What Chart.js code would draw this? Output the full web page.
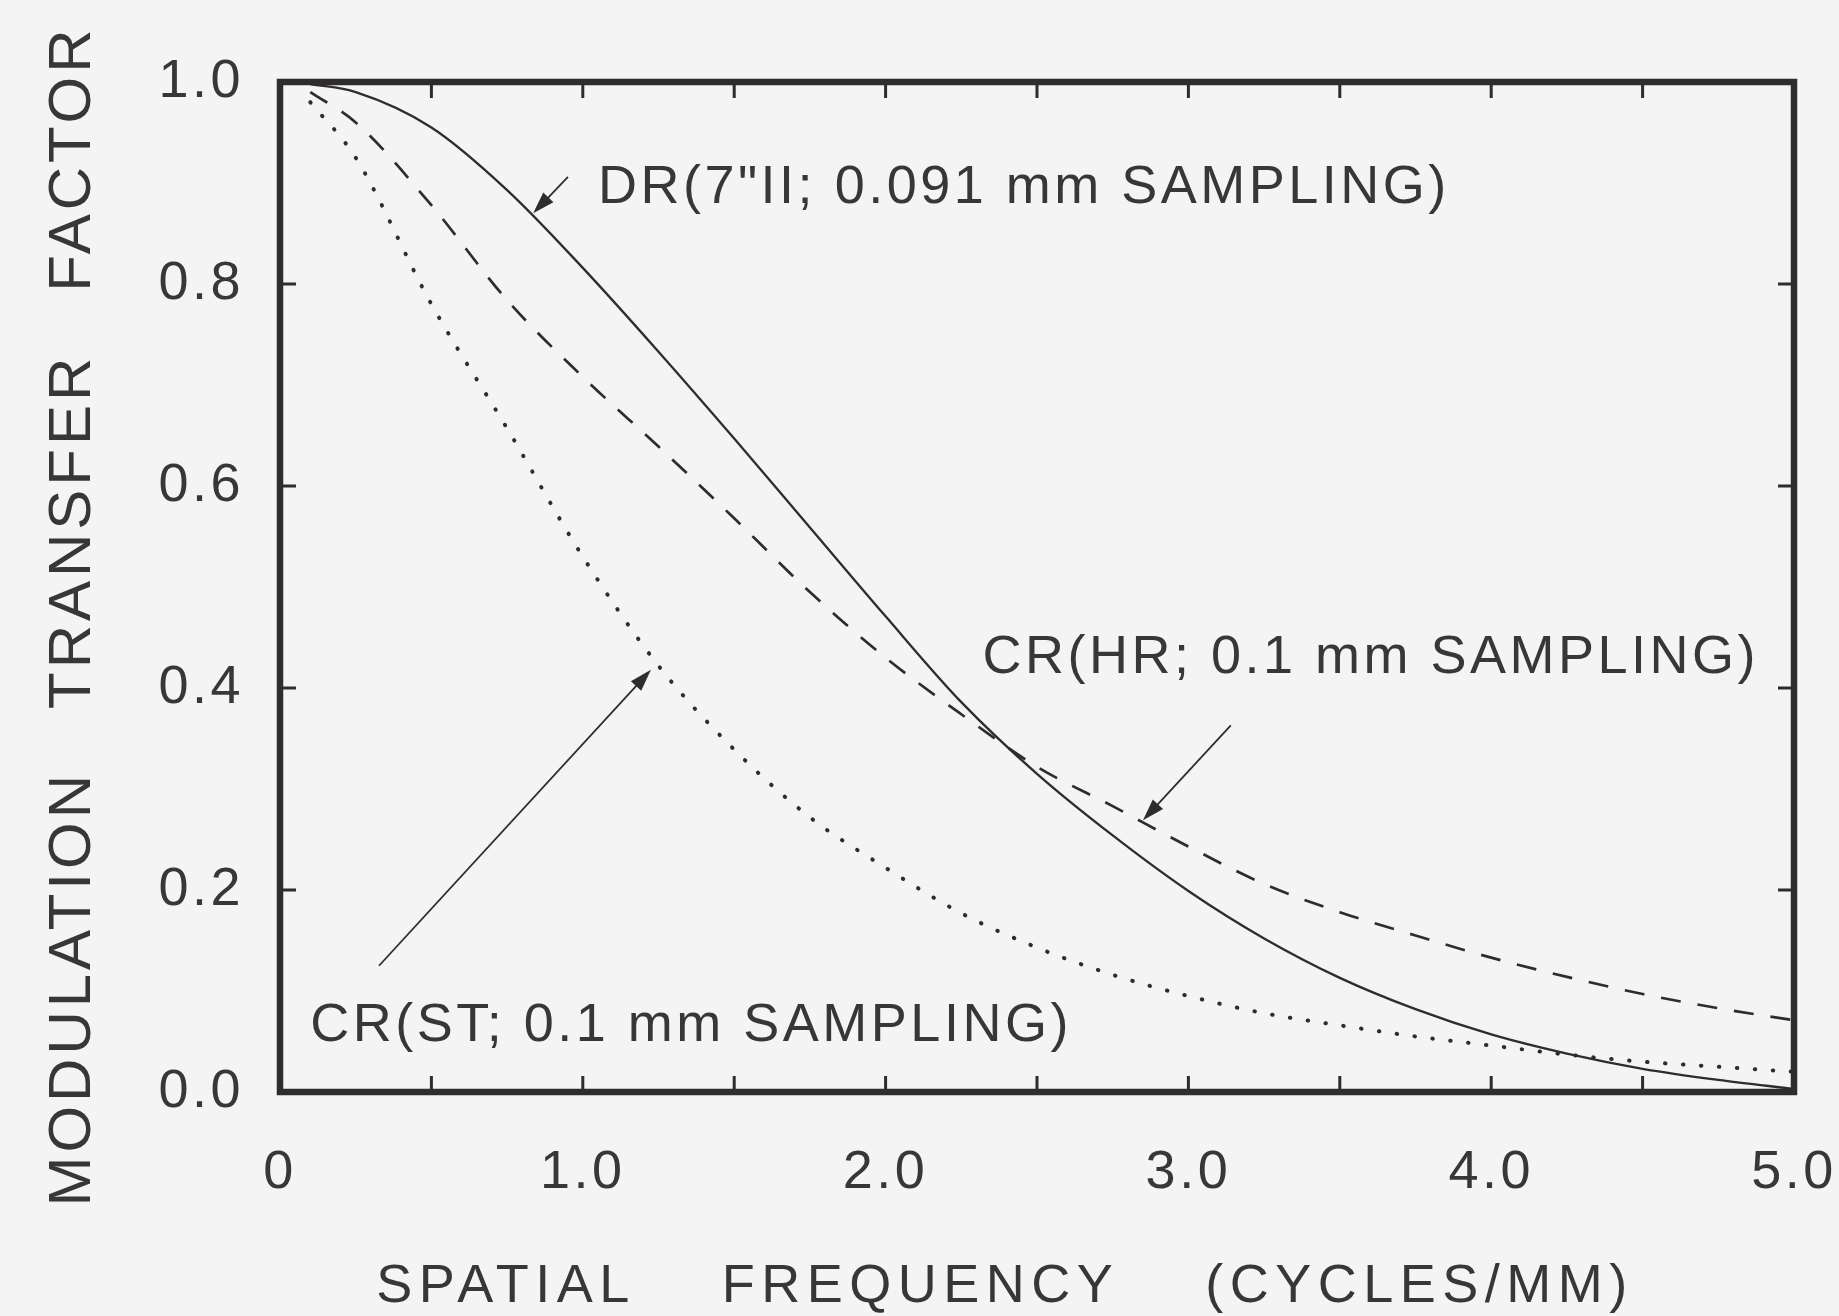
<!DOCTYPE html>
<html>
<head>
<meta charset="utf-8">
<script src="https://cdn.jsdelivr.net/npm/chart.js@4.4.1/dist/chart.umd.min.js"></script>
<style>
  html, body { margin: 0; padding: 0; background: #f4f4f4; }
  canvas { display: block; }
</style>
</head>
<body>
<canvas id="mtf" width="1839" height="1316"></canvas>
<script>
// spatial frequency (cycles/mm) sampled along the curves
const freq = [0.1, 0.25, 0.5, 0.75, 1.0, 1.25, 1.5, 1.75, 2.0, 2.25, 2.5,
              2.75, 3.0, 3.25, 3.5, 3.75, 4.0, 4.25, 4.5, 4.75, 5.0];

// DR (7"II; 0.091 mm sampling) - solid
const drValues = [0.998, 0.99, 0.955, 0.893, 0.816, 0.733, 0.647, 0.559, 0.471, 0.386, 0.315,
                  0.254, 0.199, 0.152, 0.113, 0.082, 0.057, 0.038, 0.023, 0.012, 0.003];

// CR (HR; 0.1 mm sampling) - dashed
const crHrValues = [0.99, 0.96, 0.878, 0.784, 0.708, 0.639, 0.568, 0.495, 0.43, 0.374, 0.322,
                    0.283, 0.243, 0.206, 0.178, 0.155, 0.133, 0.114, 0.097, 0.083, 0.071];

// CR (ST; 0.1 mm sampling) - dotted
const crStValues = [0.98, 0.925, 0.78, 0.657, 0.53, 0.422, 0.339, 0.272, 0.222, 0.177, 0.143,
                    0.116, 0.095, 0.078, 0.066, 0.055, 0.046, 0.037, 0.03, 0.025, 0.02];

const xTickLabels = ['0', '1.0', '2.0', '3.0', '4.0', '5.0'];
const yTickLabels = ['0.0', '0.2', '0.4', '0.6', '0.8', '1.0'];

const xTitle = 'SPATIAL    FREQUENCY    (CYCLES/MM)';
const yTitle = 'MODULATION   TRANSFER   FACTOR';

// labels with their arrows, in data units
const notes = [
    { text: 'DR(7"II; 0.091 mm SAMPLING)', at: [1.05, 0.895], from: [0.951, 0.906], to: [0.836, 0.870] },
    { text: 'CR(HR; 0.1 mm SAMPLING)', at: [2.32, 0.43], from: [3.14, 0.363], to: [2.85, 0.269] },
    { text: 'CR(ST; 0.1 mm SAMPLING)', at: [0.10, 0.065], from: [0.327, 0.125], to: [1.225, 0.418] }
];

const ink = '#2f2c2c';
const textInk = '#383636';
const paper = '#f4f4f4';
const family = '"Liberation Sans", Arial, Helvetica, sans-serif';
const spacing = '3.5px';

function toPoints(values) {
    return freq.map((f, i) => ({ x: f, y: values[i] }));
}

function arrow(ctx, x0, y0, x1, y1) {
    const ang = Math.atan2(y1 - y0, x1 - x0);
    const len = 22, half = 7;
    ctx.beginPath();
    ctx.moveTo(x0, y0);
    ctx.lineTo(x1 - Math.cos(ang) * len * 0.6, y1 - Math.sin(ang) * len * 0.6);
    ctx.stroke();
    ctx.beginPath();
    ctx.moveTo(x1, y1);
    ctx.lineTo(x1 - Math.cos(ang) * len - Math.sin(ang) * half, y1 - Math.sin(ang) * len + Math.cos(ang) * half);
    ctx.lineTo(x1 - Math.cos(ang) * len + Math.sin(ang) * half, y1 - Math.sin(ang) * len - Math.cos(ang) * half);
    ctx.closePath();
    ctx.fill();
}

const decor = {
    id: 'decor',
    beforeUpdate(chart) {
        chart.ctx.letterSpacing = spacing;
    },
    beforeDraw(chart) {
        const ctx = chart.ctx;
        ctx.save();
        ctx.fillStyle = paper;
        ctx.fillRect(0, 0, chart.width, chart.height);
        ctx.restore();
        ctx.letterSpacing = spacing;
    },
    afterDraw(chart) {
        const ctx = chart.ctx;
        const { left, right, top, bottom } = chart.chartArea;
        const xs = chart.scales.x, ys = chart.scales.y;
        ctx.save();

        // inward ticks
        ctx.strokeStyle = ink;
        ctx.lineWidth = 3;
        ctx.beginPath();
        xs.ticks.forEach(t => {
            if (t.value <= 0 || t.value >= 5) return;
            const px = xs.getPixelForValue(t.value);
            ctx.moveTo(px, bottom); ctx.lineTo(px, bottom - 16);
            ctx.moveTo(px, top); ctx.lineTo(px, top + 16);
        });
        ys.ticks.forEach(t => {
            if (t.value <= 0 || t.value >= 1) return;
            const py = ys.getPixelForValue(t.value);
            ctx.moveTo(left, py); ctx.lineTo(left + 16, py);
            ctx.moveTo(right, py); ctx.lineTo(right - 16, py);
        });
        ctx.stroke();

        // frame
        ctx.lineWidth = 6.5;
        ctx.strokeRect(left, top, right - left, bottom - top);

        // notes and arrows
        ctx.letterSpacing = spacing;
        ctx.fillStyle = textInk;
        ctx.font = '54px ' + family;
        ctx.textAlign = 'left';
        ctx.textBaseline = 'middle';
        notes.forEach(n => {
            ctx.fillText(n.text, xs.getPixelForValue(n.at[0]), ys.getPixelForValue(n.at[1]));
        });
        ctx.strokeStyle = ink;
        ctx.fillStyle = ink;
        ctx.lineWidth = 1.8;
        notes.forEach(n => {
            arrow(ctx,
                xs.getPixelForValue(n.from[0]), ys.getPixelForValue(n.from[1]),
                xs.getPixelForValue(n.to[0]), ys.getPixelForValue(n.to[1]));
        });

        // axis titles
        ctx.fillStyle = textInk;
        ctx.textAlign = 'center';
        ctx.letterSpacing = '6.5px';
        ctx.font = '54px ' + family;
        ctx.fillText(xTitle, (left + right) / 2 - 32, bottom + 195);

        ctx.letterSpacing = '4px';
        ctx.font = '60px ' + family;
        ctx.translate(73, (top + bottom) / 2 + 29);
        ctx.rotate(-Math.PI / 2);
        ctx.fillText(yTitle, 0, 0);
        ctx.restore();
    }
};

const tickFont = { family: family, size: 54 };

new Chart(document.getElementById('mtf'), {
    type: 'line',
    data: {
        datasets: [
            {
                label: 'DR(7"II; 0.091 mm SAMPLING)',
                data: toPoints(drValues),
                borderColor: ink,
                borderWidth: 2.3,
                cubicInterpolationMode: 'monotone'
            },
            {
                label: 'CR(HR; 0.1 mm SAMPLING)',
                data: toPoints(crHrValues),
                borderColor: ink,
                borderWidth: 2.7,
                borderDash: [20, 17],
                cubicInterpolationMode: 'monotone'
            },
            {
                label: 'CR(ST; 0.1 mm SAMPLING)',
                data: toPoints(crStValues),
                borderColor: ink,
                borderWidth: 4,
                borderDash: [0.5, 17.5],
                borderCapStyle: 'round',
                cubicInterpolationMode: 'monotone'
            }
        ]
    },
    options: {
        responsive: false,
        animation: false,
        events: [],
        layout: { padding: { top: 82, right: 0, left: 0, bottom: 0 } },
        elements: { point: { radius: 0 } },
        plugins: {
            legend: { display: false },
            tooltip: { enabled: false }
        },
        scales: {
            x: {
                type: 'linear',
                min: 0,
                max: 5,
                border: { display: false },
                grid: { display: false, drawTicks: false },
                afterFit: s => { s.height = 224; s.paddingRight = 45; s.paddingLeft = 0; },
                ticks: {
                    stepSize: 0.5,
                    autoSkip: false,
                    maxRotation: 0,
                    padding: 49,
                    color: textInk,
                    font: tickFont,
                    callback: v => Number.isInteger(v) ? xTickLabels[v] : ''
                }
            },
            y: {
                type: 'linear',
                min: 0,
                max: 1,
                border: { display: false },
                grid: { display: false, drawTicks: false },
                afterFit: s => { s.width = 280; s.paddingTop = 0; s.paddingBottom = 0; },
                ticks: {
                    stepSize: 0.2,
                    padding: 36,
                    color: textInk,
                    font: tickFont,
                    callback: v => yTickLabels[Math.round(v / 0.2)]
                }
            }
        }
    },
    plugins: [decor]
});
</script>
</body>
</html>
